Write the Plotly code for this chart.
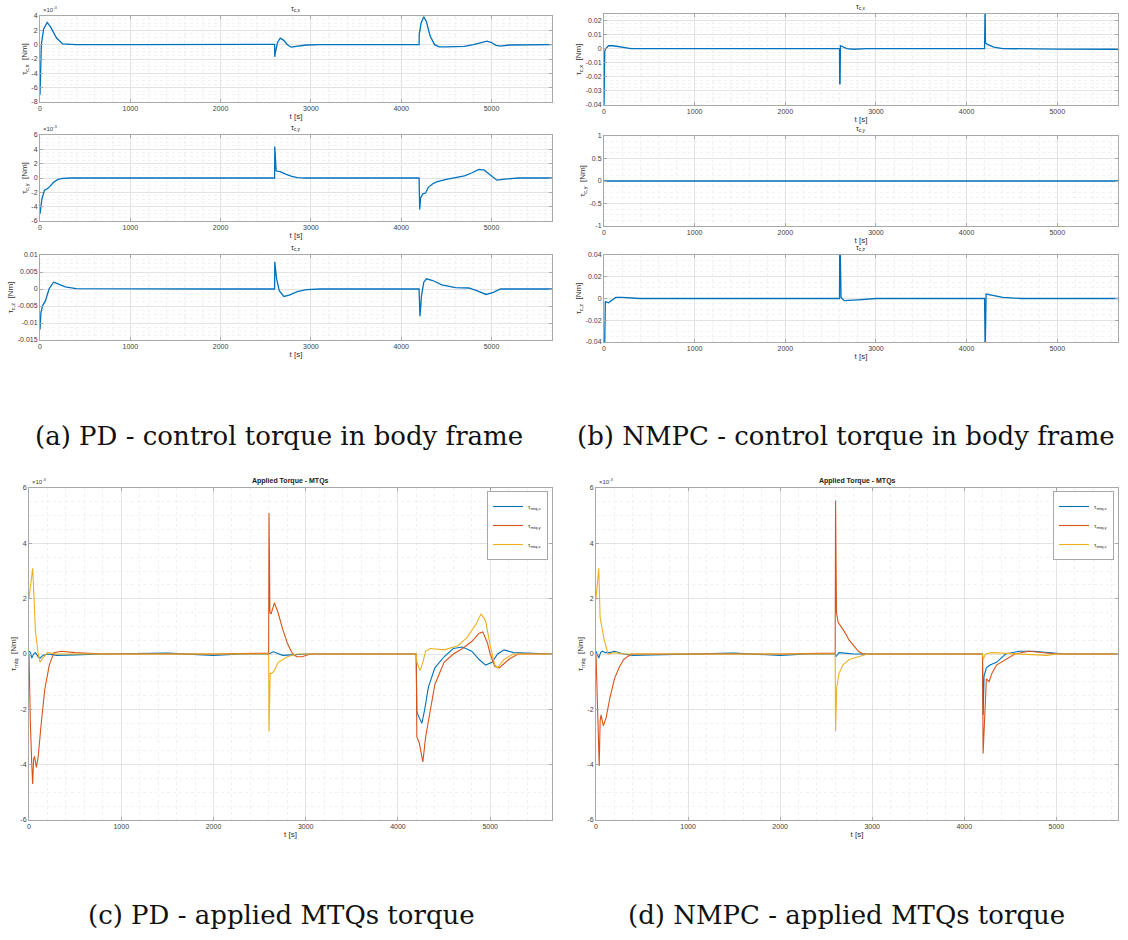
import plotly.graph_objects as go

# ---------------- DATA ----------------
# (a) PD - control torque in body frame  (x, y in 1e-3 Nm ; z in Nm)
t_pd_x = [0, 5, 15, 40, 80, 120, 180, 250, 400, 1000, 1800, 2000, 2200, 2598, 2600, 2605, 2630, 2660, 2700, 2740,
          2780, 2850, 2950, 3100, 4198, 4200, 4205, 4220, 4250, 4280, 4320, 4370, 4420, 4500, 4700, 4800, 4900, 4950,
          5000, 5050, 5100, 5200, 5670]
pd_x = [-7.0, -4.0, 0.0, 2.2, 3.1, 2.4, 1.0, 0.1, 0.0, 0.0, 0.05, 0.05, 0.0, 0.05, -1.7, -1.2, 0.3, 0.9, 0.6, 0.0,
        -0.35, -0.25, -0.05, 0.0, 0.0, 1.6, 1.8, 3.0, 3.9, 3.2, 1.2, 0.0, -0.3, -0.3, -0.25, 0.0, 0.35, 0.5,
        0.3, -0.1, -0.2, -0.05, 0.0]

t_pd_y = [0, 20, 50, 70, 100, 150, 200, 250, 350, 1000, 2000, 2598, 2600, 2615, 2625, 2660, 2720, 2780, 2850, 2950,
          4198, 4205, 4215, 4240, 4270, 4300, 4350, 4400, 4500, 4600, 4700, 4780, 4860, 4920, 4970, 5020, 5060, 5150,
          5300, 5670]
pd_y = [-5.0, -3.0, -1.7, -1.6, -1.3, -0.6, -0.2, -0.05, 0.0, 0.0, 0.0, 0.0, 4.4, 1.0, 0.95, 0.9, 0.55, 0.25, 0.05, 0.0,
        0.0, -4.4, -2.8, -2.2, -2.1, -1.3, -0.8, -0.5, -0.2, 0.05, 0.3, 0.7, 1.2, 1.1, 0.6, 0.0, -0.3, -0.15,
        0.0, 0.0]

t_pd_z = [0, 10, 30, 60, 100, 150, 200, 280, 400, 1000, 2000, 2598, 2600, 2620, 2650, 2700, 2760, 2850, 2950, 3100,
          4198, 4208, 4225, 4250, 4280, 4350, 4450, 4600, 4750, 4850, 4940, 5020, 5100, 5200, 5670]
pd_z = [-0.012, -0.007, -0.0048, -0.0035, 0.0, 0.002, 0.0015, 0.0006, 0.0001, 0.0, 0.0, 0.0, 0.008, 0.003, -0.0005,
        -0.0022, -0.0018, -0.0008, -0.0002, 0.0, 0.0, -0.008, -0.002, 0.002, 0.003, 0.0025, 0.0012, 0.0004, 0.0003,
        -0.0006, -0.0016, -0.001, 0.0, 0.0, 0.0]

# (b) NMPC - control torque in body frame (Nm)
t_mpc_x = [0, 8, 20, 50, 100, 150, 220, 300, 1000, 2000, 2598, 2600, 2604, 2608, 2630, 2680, 2750, 2900, 4198, 4200,
           4204, 4208, 4230, 4300, 4400, 5000, 5670]
mpc_x = [-0.04, -0.002, 0.0, 0.002, 0.002, 0.0015, 0.0005, 0.0, 0.0, 0.0, 0.0, -0.025, -0.025, 0.002, 0.0012, 0.0,
         -0.0005, 0.0, 0.0, 0.03, 0.03, 0.004, 0.003, 0.001, 0.0, -0.0004, -0.0005]

t_mpc_y = [0, 5670]
mpc_y = [0.0, 0.0]

t_mpc_z = [0, 8, 15, 50, 80, 130, 200, 400, 1000, 2598, 2600, 2605, 2615, 2650, 2800, 3000, 4198, 4200, 4205, 4215,
           4300, 4400, 4600, 5670]
mpc_z = [-0.04, -0.04, -0.003, -0.004, -0.002, 0.001, 0.001, 0.0, 0.0, 0.0, 0.05, 0.05, 0.001, -0.002, -0.0013, 0.0,
         0.0, -0.05, -0.05, 0.004, 0.0025, 0.001, 0.0, 0.0]

# (c) PD - applied MTQs torque (1e-3 Nm)
t_pdm_x = [0, 15, 30, 50, 70, 100, 120, 150, 200, 300, 500, 800, 1500, 2000, 2300, 2598, 2600, 2650, 2750, 2850,
           3000, 4198, 4205, 4230, 4260, 4290, 4330, 4400, 4500, 4600, 4700, 4800, 4880, 4950, 5020, 5080, 5150,
           5250, 5670]
pdm_x = [0.1, 0.05, -0.15, 0.0, 0.05, -0.1, -0.15, -0.05, 0.0, -0.05, -0.03, 0.0, 0.03, -0.05, 0.0, 0.0, 0.0, 0.08,
         -0.05, -0.03, 0.0, 0.0, -2.1, -2.3, -2.5, -2.0, -1.2, -0.5, -0.1, 0.2, 0.25, 0.1, -0.2, -0.4, -0.3, 0.0,
         0.15, 0.05, 0.0]

t_pdm_y = [0, 5, 15, 30, 40, 50, 60, 80, 100, 130, 170, 220, 270, 350, 500, 800, 2000, 2598, 2602, 2612,
           2625, 2660, 2700, 2750, 2800, 2850, 2900, 2960, 3050, 4198, 4205, 4230, 4270, 4300, 4350, 4400, 4500, 4600,
           4700, 4800, 4880, 4920, 4970, 5000, 5050, 5100, 5200, 5300, 5670]
pdm_y = [0.0, -1.2, -2.5, -4.0, -4.7, -3.8, -3.7, -4.1, -3.7, -2.6, -1.3, -0.4, 0.05, 0.1, 0.05, 0.0, 0.0, 0.03, 5.1,
         1.5, 1.45, 1.85, 1.5, 0.9, 0.4, 0.05, -0.1, -0.1, 0.0, 0.0, -3.0, -3.2, -3.9, -3.0, -2.0, -1.1, -0.3, 0.0,
         0.2, 0.45, 0.75, 0.8, 0.4, 0.0, -0.45, -0.5, -0.2, 0.0, 0.0]

t_pdm_z = [0, 20, 40, 55, 70, 100, 120, 150, 200, 300, 2000, 2598, 2602, 2615, 2630, 2660, 2700, 2800, 2900, 4198,
           4205, 4240, 4270, 4300, 4350, 4500, 4650, 4750, 4850, 4900, 4950, 5000, 5050, 5080, 5150, 5250, 5670]
pdm_z = [2.0, 2.6, 3.1, 2.0, 0.8, 0.0, -0.3, -0.15, 0.05, 0.0, 0.0, 0.0, -2.8, -0.7, -0.7, -0.6, -0.3, -0.1, 0.0, 0.0,
         -0.3, -0.6, -0.3, 0.1, 0.2, 0.15, 0.3, 0.6, 1.1, 1.45, 1.2, 0.3, -0.4, -0.5, -0.2, 0.0, 0.0]

# (d) NMPC - applied MTQs torque (1e-3 Nm)
t_mpcm_x = [0, 15, 30, 50, 70, 100, 150, 200, 250, 300, 400, 600, 1500, 2000, 2300, 2598, 2605, 2640, 2700, 2800,
            4198, 4205, 4215, 4240, 4280, 4350, 4450, 4600, 4750, 4900, 5100, 5670]
mpcm_x = [0.1, 0.0, -0.15, 0.05, 0.1, 0.05, 0.05, 0.1, 0.05, 0.0, -0.05, -0.03, 0.03, -0.05, 0.0, 0.0, -0.1, 0.05,
          0.03, 0.0, 0.0, -2.2, -0.8, -0.5, -0.4, -0.3, 0.0, 0.1, 0.1, 0.05, 0.0, 0.0]

t_mpcm_y = [0, 10, 20, 35, 45, 55, 80, 110, 150, 200, 250, 300, 380, 1000, 2000, 2598, 2602, 2612, 2630, 2660,
            2700, 2750, 2800, 2850, 2900, 4198, 4205, 4240, 4270, 4300, 4350, 4450, 4550, 4700, 4900, 5000, 5670]
mpcm_y = [0.0, -1.5, -2.8, -4.05, -2.4, -2.2, -2.6, -2.3, -1.6, -0.9, -0.5, -0.2, 0.0, 0.0, 0.0, 0.03, 5.55, 1.5,
          1.15, 1.0, 0.8, 0.5, 0.3, 0.1, 0.0, 0.0, -3.6, -0.9, -1.0, -0.7, -0.4, -0.2, 0.0, 0.1, 0.05, 0.0, 0.0]

t_mpcm_z = [0, 15, 30, 45, 60, 90, 130, 200, 300, 2000, 2598, 2602, 2615, 2640, 2680, 2750, 2850, 2950, 4198, 4205,
            4230, 4300, 4900, 5000, 5670]
mpcm_z = [2.0, 2.6, 3.1, 1.3, 1.0, 0.5, 0.0, 0.05, 0.0, 0.0, 0.0, -2.8, -1.2, -0.7, -0.4, -0.2, -0.1, 0.0, 0.0, -0.2,
          0.0, 0.05, -0.05, 0.0, 0.0]

# tick labels
x_dtick = 1000
ticks_a1 = [-8, -6, -4, -2, 0, 2, 4]
ticks_a2 = [-6, -4, -2, 0, 2, 4, 6]
ticks_a3 = [-0.015, -0.01, -0.005, 0, 0.005, 0.01]
ticks_b1 = [-0.04, -0.03, -0.02, -0.01, 0, 0.01, 0.02]
ticks_b2 = [-1, -0.5, 0, 0.5, 1]
ticks_b3 = [-0.04, -0.02, 0, 0.02, 0.04]
ticks_mtq = [-6, -4, -2, 0, 2, 4, 6]

captions = ["(a) PD - control torque in body frame", "(b) NMPC - control torque in body frame",
            "(c) PD - applied MTQs torque", "(d) NMPC - applied MTQs torque"]

# ---------------- LAYOUT HELPERS ----------------
W, H = 1128, 940
BLUE, RED, YEL = "#0072BD", "#D95319", "#EDB120"
FONT = "Liberation Sans, Arial, sans-serif"


def fx(p):
    return p / W


def fy(p):
    return 1 - p / H


def fmt(v):
    return "%g" % v


fig = go.Figure()

panels = [
    ("1", (40, 552), (16, 102), [-8, 4], ticks_a1, "τ<sub>c,x</sub>  [Nm]", "τ<sub>c,x</sub>", True),
    ("2", (40, 552), (135, 221), [-6, 6], ticks_a2, "τ<sub>c,y</sub>  [Nm]", "τ<sub>c,y</sub>", True),
    ("3", (40, 552), (255, 340), [-0.015, 0.01], ticks_a3, "τ<sub>c,z</sub>  [Nm]", "τ<sub>c,z</sub>", False),
    ("4", (604, 1118), (14, 105), [-0.04, 0.0245], ticks_b1, "τ<sub>c,x</sub>  [Nm]", "τ<sub>c,x</sub>", False),
    ("5", (604, 1118), (136, 226), [-1, 1], ticks_b2, "τ<sub>c,y</sub>  [Nm]", "τ<sub>c,y</sub>", False),
    ("6", (604, 1118), (255, 342), [-0.04, 0.04], ticks_b3, "τ<sub>c,z</sub>  [Nm]", "τ<sub>c,z</sub>", False),
    ("7", (29, 552), (488, 820), [-6, 6], ticks_mtq, "τ<sub>mtq</sub>  [Nm]", "<b>Applied Torque - MTQs</b>", True),
    ("8", (596, 1118), (488, 820), [-6, 6], ticks_mtq, "τ<sub>mtq</sub>  [Nm]", "<b>Applied Torque - MTQs</b>", True),
]

annotations = []
for name, (x0, x1), (y0, y1), yr, yt, ytitle, title, expo in panels:
    fs = 7
    xa = dict(domain=[fx(x0), fx(x1)], anchor="y" + name, range=[0, 5670],
              tickmode="linear", tick0=0, dtick=x_dtick, tickformat="d",
              showgrid=True, gridcolor="#e3e3e3", gridwidth=1, zeroline=False,
              showline=True, linecolor="#a8a8a8", linewidth=1, mirror="ticks",
              ticks="inside", ticklen=3, tickcolor="#a8a8a8",
              tickfont=dict(size=fs, color="#404040", family=FONT),
              minor=dict(showgrid=True, gridcolor="#f0f0f0", griddash="dot", tickmode="linear",
                         tick0=0, dtick=200, ticks=""),
              title=dict(text="t [s]", font=dict(size=8, color="#303030", family=FONT), standoff=1),
              automargin=False)
    ydt = (yt[1] - yt[0]) / 4
    ya = dict(domain=[fy(y1), fy(y0)], anchor="x" + name, range=yr,
              tickmode="array", tickvals=yt, ticktext=[fmt(v) for v in yt],
              showgrid=True, gridcolor="#e3e3e3", gridwidth=1, zeroline=False,
              showline=True, linecolor="#a8a8a8", linewidth=1, mirror="ticks",
              ticks="inside", ticklen=3, tickcolor="#a8a8a8",
              tickfont=dict(size=fs, color="#404040", family=FONT),
              minor=dict(showgrid=True, gridcolor="#f2f2f2", griddash="dot", tickmode="linear",
                         tick0=yt[0], dtick=ydt, ticks=""),
              title=dict(text=ytitle, font=dict(size=8, color="#303030", family=FONT), standoff=2),
              automargin=False)
    key = "" if name == "1" else name
    fig.layout["xaxis" + key] = xa
    fig.layout["yaxis" + key] = ya
    annotations.append(dict(text=title, x=(fx(x0) + fx(x1)) / 2, y=fy(y0 - 1), xref="paper", yref="paper",
                            xanchor="center", yanchor="bottom", showarrow=False,
                            font=dict(size=7, color="#202020", family=FONT)))
    if expo:
        annotations.append(dict(text="×10<sup>-3</sup>", x=fx(x0 + 1), y=fy(y0 - 1), xref="paper", yref="paper",
                                xanchor="left", yanchor="bottom", showarrow=False,
                                font=dict(size=6, color="#404040", family=FONT)))


# ---------------- TRACES ----------------
def add(t, v, axn, color, name=None, legend=None, width=1.3):
    key = "" if axn == "1" else axn
    fig.add_trace(go.Scatter(x=t, y=v, mode="lines", line=dict(color=color, width=width),
                             xaxis="x" + key, yaxis="y" + key, name=name,
                             showlegend=name is not None, legend=legend))


add(t_pd_x, pd_x, "1", BLUE)
add(t_pd_y, pd_y, "2", BLUE)
add(t_pd_z, pd_z, "3", BLUE)
add(t_mpc_x, mpc_x, "4", BLUE)
add(t_mpc_y, mpc_y, "5", BLUE)
add(t_mpc_z, mpc_z, "6", BLUE)

names = ["τ<sub>mtq,x</sub>", "τ<sub>mtq,y</sub>", "τ<sub>mtq,z</sub>"]
add(t_pdm_x, pdm_x, "7", BLUE, names[0], "legend", 1.1)
add(t_pdm_y, pdm_y, "7", RED, names[1], "legend", 1.1)
add(t_pdm_z, pdm_z, "7", YEL, names[2], "legend", 1.1)
add(t_mpcm_x, mpcm_x, "8", BLUE, names[0], "legend2", 1.1)
add(t_mpcm_y, mpcm_y, "8", RED, names[1], "legend2", 1.1)
add(t_mpcm_z, mpcm_z, "8", YEL, names[2], "legend2", 1.1)

# captions
cap_pos = [(279, 436), (846, 436), (281, 915), (846, 915)]
for txt, (cx, cy) in zip(captions, cap_pos):
    annotations.append(dict(text=txt, x=fx(cx), y=fy(cy), xref="paper", yref="paper",
                            xanchor="center", yanchor="middle", showarrow=False,
                            font=dict(size=26, color="#111111", family="DejaVu Serif, serif")))

leg_common = dict(xanchor="right", yanchor="top", bgcolor="white", bordercolor="#a8a8a8", borderwidth=1,
                  font=dict(size=6, color="#303030", family=FONT), tracegroupgap=0, itemwidth=30)
fig.update_layout(
    width=W, height=H, margin=dict(l=0, r=0, t=0, b=0),
    paper_bgcolor="white", plot_bgcolor="white",
    annotations=annotations,
    legend=dict(x=fx(548), y=fy(491), **leg_common),
    legend2=dict(x=fx(1114), y=fy(491), **leg_common),
)

fig.write_html("out.html")
